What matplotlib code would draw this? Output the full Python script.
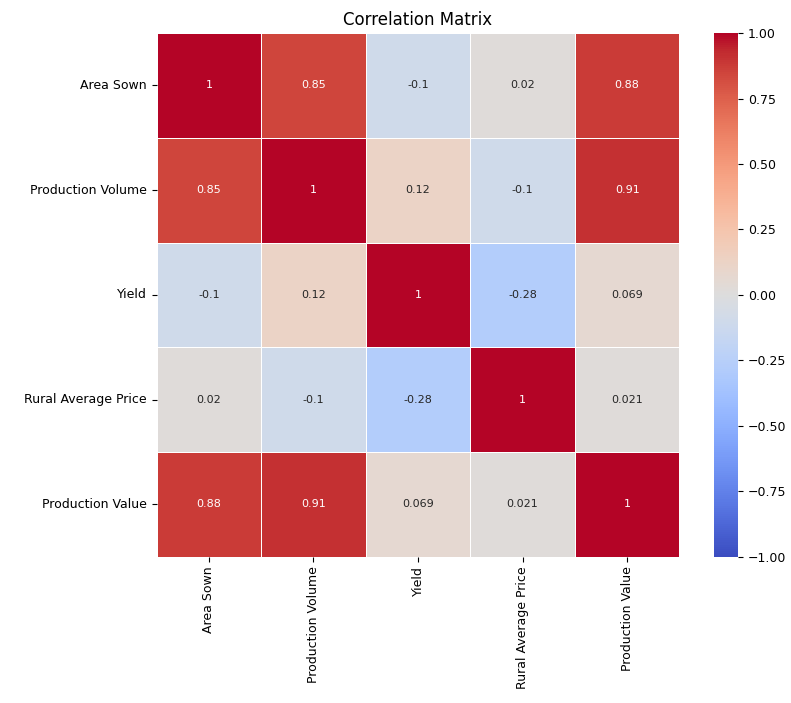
"""
    Matriz de correlação entre as variáveis de produção agrícola
"""

import numpy as np
import pandas as pd
import matplotlib
matplotlib.use("Agg")
import matplotlib.pyplot as plt
import seaborn as sns

LABELS = ["Area Sown", "Production Volume", "Yield", "Rural Average Price", "Production Value"]

# Valores, linha a linha
ROW_AREA = [1, 0.85, -0.1, 0.02, 0.88]
ROW_VOLUME = [0.85, 1, 0.12, -0.1, 0.91]
ROW_YIELD = [-0.1, 0.12, 1, -0.28, 0.069]
ROW_PRICE = [0.02, -0.1, -0.28, 1, 0.021]
ROW_VALUE = [0.88, 0.91, 0.069, 0.021, 1]


def main():
    """
        Desenha o heatmap e salva em out.png
    """
    corr = pd.DataFrame(np.array([ROW_AREA, ROW_VOLUME, ROW_YIELD, ROW_PRICE, ROW_VALUE]),
                        index=LABELS, columns=LABELS)

    fig = plt.figure(figsize=(7.91, 7.03), dpi=100)
    ax = fig.add_axes([0.198, 0.208, 0.661, 0.745])
    cax = fig.add_axes([0.903, 0.208, 0.030, 0.745])

    sns.heatmap(corr, annot=True, cmap="coolwarm", vmin=-1, vmax=1, linewidths=0.5,
                linecolor="white", ax=ax, cbar_ax=cax, annot_kws={"size": 8})

    ax.set_title("Correlation Matrix", fontsize=12)
    ax.tick_params(axis="both", labelsize=9)
    plt.setp(ax.get_xticklabels(), rotation=90)
    plt.setp(ax.get_yticklabels(), rotation=0)
    cax.tick_params(labelsize=9)

    fig.savefig("out.png", dpi=100)


if __name__ == "__main__":
    main()
